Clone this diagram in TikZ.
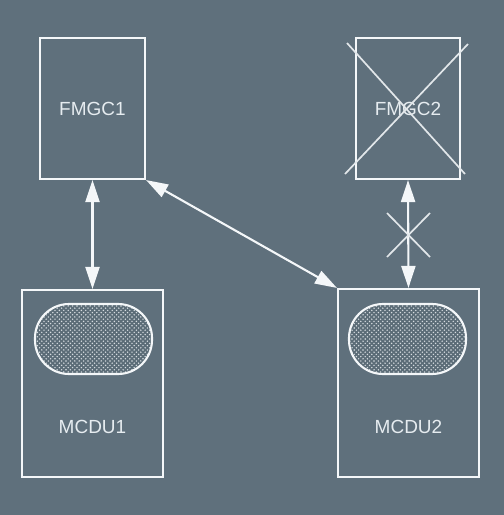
\documentclass[tikz,border=0pt]{standalone}
\usepackage{fontspec}
\setmainfont{Liberation Sans}
\usetikzlibrary{arrows.meta,patterns}
\definecolor{bg}{HTML}{5F707C}
\definecolor{ln}{HTML}{F4F7F9}
\definecolor{tx}{HTML}{E6ECF0}
\pgfdeclarepatternformonly{ovaldots}{\pgfqpoint{-1pt}{-1pt}}{\pgfqpoint{4pt}{4pt}}{\pgfqpoint{4.4pt}{4.4pt}}{%
  \pgfpathcircle{\pgfqpoint{0pt}{0pt}}{0.8pt}%
  \pgfpathcircle{\pgfqpoint{2.2pt}{2.2pt}}{0.8pt}%
  \pgfusepath{fill}}
\begin{document}
\begin{tikzpicture}[x=1pt,y=-1pt,
  boxnode/.style={draw=ln,line width=2.1pt,rectangle,inner sep=0pt,anchor=center},
  ovalnode/.style={draw=ln,line width=2.1pt,rectangle,rounded corners=34pt,inner sep=0pt,
     minimum width=117pt,minimum height=70pt,preaction={fill=bg!96!black},
     pattern=ovaldots,pattern color=ln!80!bg},
  lbl/.style={text=tx,font=\fontsize{19}{21}\selectfont,inner sep=0pt},
  link/.style={draw=ln,line width=2.1pt,{Triangle[length=22pt,width=14pt]}-{Triangle[length=22pt,width=14pt]}},
  crossline/.style={draw=ln!88!bg,line width=1.7pt}]
\fill[bg] (0,0) rectangle (504,515);
\useasboundingbox (0,0) rectangle (504,515);
% boxes
\node[boxnode,minimum width=105pt,minimum height=141pt] (FMGC1) at (92.5,108.5) {};
\node[boxnode,minimum width=104pt,minimum height=141pt] (FMGC2) at (408,108.5) {};
\node[boxnode,minimum width=141pt,minimum height=187pt] (MCDU1) at (92.5,383.5) {};
\node[boxnode,minimum width=141pt,minimum height=188pt] (MCDU2) at (408.5,383) {};
% ovals
\node[ovalnode] (oval1) at (93.5,339) {};
\node[ovalnode] (oval2) at (407.5,339) {};
% labels
\node[lbl] (t1) at (92.5,109) {FMGC1};
\node[lbl] (t2) at (408,109) {FMGC2};
\node[lbl] (t3) at (92.5,427) {MCDU1};
\node[lbl] (t4) at (408.5,427) {MCDU2};
% cross over FMGC2
\coordinate (xa) at (347,43);
\coordinate (xb) at (465,174);
\coordinate (xc) at (468,44);
\coordinate (xd) at (345,174);
\draw[crossline] (xa) -- (xb);
\draw[crossline] (xc) -- (xd);
% connectors
\draw[link] (FMGC1.south) -- (MCDU1.north);
\draw[link] (FMGC1.south east) -- (MCDU2.north west);
\draw[link] (FMGC2.south) -- (MCDU2.north);
% cross on link
\coordinate (ya) at (387,213);
\coordinate (yb) at (430,257);
\coordinate (yc) at (430,213);
\coordinate (yd) at (387,257);
\draw[crossline] (ya) -- (yb);
\draw[crossline] (yc) -- (yd);
\end{tikzpicture}
\end{document}
